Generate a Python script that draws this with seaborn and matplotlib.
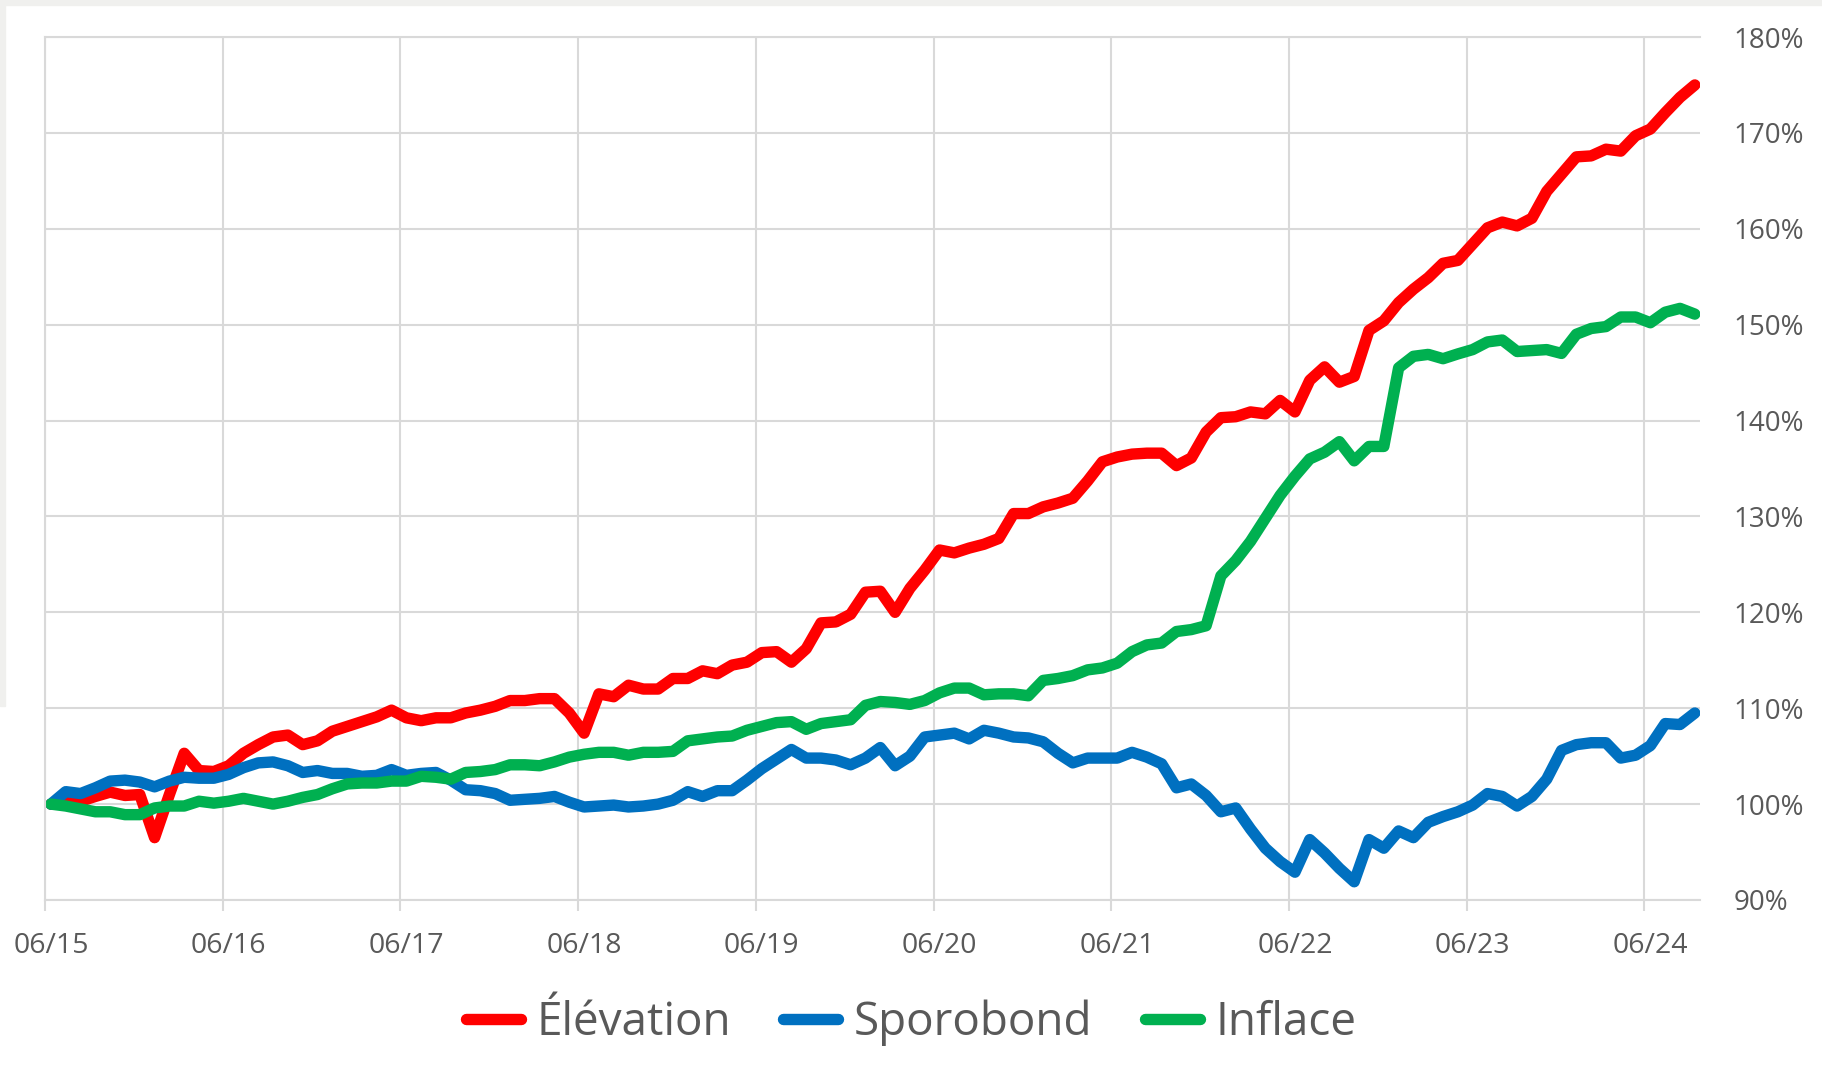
import matplotlib
matplotlib.use("Agg")
import matplotlib.pyplot as plt
import matplotlib.transforms as mtransforms
import numpy as np
import pandas as pd
import seaborn as sns
from matplotlib.patches import Rectangle

# Data (monthly, 06/2015 -> 09/2024, indexed to 100 %)
series_names = ["Élévation", "Sporobond", "Inflace"]
colors = ["#FF0000", "#0070C0", "#00B050"]

elevation = [
    100.0, 100.2, 100.3, 100.8, 101.25, 100.9, 101.0, 96.5, 101.0, 105.3,
    103.5, 103.4, 104.0, 105.3, 106.2, 107.0, 107.2, 106.2, 106.6, 107.6,
    108.1, 108.6, 109.1, 109.8, 109.0, 108.7, 109.0, 109.0, 109.5, 109.8,
    110.2, 110.8, 110.8, 111.0, 111.0, 109.5, 107.4, 111.5, 111.2, 112.4,
    112.0, 112.0, 113.1, 113.1, 113.9, 113.6, 114.5, 114.8, 115.8, 115.9,
    114.8, 116.2, 118.9, 119.0, 119.8, 122.1, 122.2, 120.0, 122.5, 124.4,
    126.5, 126.2, 126.7, 127.1, 127.7, 130.3, 130.3, 131.0, 131.4, 131.9,
    133.7, 135.7, 136.2, 136.5, 136.6, 136.6, 135.3, 136.1, 138.8, 140.3,
    140.4, 140.9, 140.7, 142.1, 140.9, 144.2, 145.6, 144.0, 144.6, 149.4,
    150.4, 152.3, 153.7, 154.9, 156.4, 156.7, 158.4, 160.1, 160.7, 160.3,
    161.1, 163.9, 165.7, 167.5, 167.6, 168.3, 168.1, 169.7, 170.4, 172.1,
    173.7, 175.0,
]

sporobond = [
    100.0, 101.3, 101.1, 101.7, 102.4, 102.5, 102.3, 101.8, 102.4, 102.8,
    102.7, 102.7, 103.1, 103.8, 104.3, 104.4, 104.0, 103.3, 103.5, 103.2,
    103.2, 102.9, 103.0, 103.6, 103.0, 103.2, 103.3, 102.5, 101.5, 101.4,
    101.1, 100.4, 100.5, 100.6, 100.8, 100.2, 99.7, 99.8, 99.9, 99.7,
    99.8, 100.0, 100.4, 101.3, 100.8, 101.4, 101.4, 102.5, 103.7, 104.7,
    105.7, 104.8, 104.8, 104.6, 104.1, 104.8, 105.9, 104.0, 105.0, 107.0,
    107.2, 107.4, 106.8, 107.7, 107.4, 107.0, 106.9, 106.5, 105.3, 104.3,
    104.8, 104.8, 104.8, 105.4, 104.9, 104.2, 101.7, 102.1, 100.9, 99.2,
    99.6, 97.4, 95.4, 94.0, 92.9, 96.3, 94.9, 93.3, 91.9, 96.3,
    95.4, 97.2, 96.5, 98.1, 98.7, 99.2, 99.9, 101.1, 100.8, 99.8,
    100.8, 102.6, 105.6, 106.2, 106.4, 106.4, 104.8, 105.1, 106.1, 108.4,
    108.3, 109.5,
]

inflace = [
    100.0, 99.8, 99.5, 99.2, 99.2, 98.9, 98.9, 99.6, 99.8, 99.8,
    100.3, 100.1, 100.3, 100.6, 100.3, 100.0, 100.3, 100.7, 101.0, 101.6,
    102.1, 102.2, 102.2, 102.4, 102.4, 102.9, 102.8, 102.6, 103.3, 103.4,
    103.6, 104.1, 104.1, 104.0, 104.4, 104.9, 105.2, 105.4, 105.4, 105.1,
    105.4, 105.4, 105.5, 106.6, 106.8, 107.0, 107.1, 107.7, 108.1, 108.5,
    108.6, 107.8, 108.4, 108.6, 108.8, 110.3, 110.7, 110.6, 110.4, 110.8,
    111.6, 112.1, 112.1, 111.4, 111.5, 111.5, 111.3, 112.9, 113.1, 113.4,
    114.0, 114.2, 114.7, 115.9, 116.6, 116.8, 118.0, 118.2, 118.6, 123.8,
    125.4, 127.4, 129.8, 132.2, 134.2, 136.0, 136.7, 137.8, 135.8, 137.3,
    137.3, 145.5, 146.7, 146.9, 146.45, 146.95, 147.4, 148.2, 148.4, 147.2,
    147.3, 147.4, 147.0, 149.0, 149.6, 149.8, 150.8, 150.8, 150.2, 151.3,
    151.7, 151.1,
]

tick_labels = ["06/15", "06/16", "06/17", "06/18", "06/19",
               "06/20", "06/21", "06/22", "06/23", "06/24"]
y_ticks = [90, 100, 110, 120, 130, 140, 150, 160, 170, 180]

# long-form table for seaborn
months = np.arange(len(elevation)) + 0.4
df = pd.DataFrame({
    "month": np.tile(months, 3),
    "value": elevation + sporobond + inflace,
    "series": np.repeat(series_names, len(months)),
})

sns.set_theme(style="white")
plt.rcParams["font.family"] = ["Open Sans", "DejaVu Sans"]

grid_col = "#d9d9d9"
text_col = "#595959"
lw = 8.2

fig = plt.figure(figsize=(18.22, 10.71), dpi=100)
fig.patches.append(Rectangle((0, 1 - 5 / 1071), 1, 5 / 1071, transform=fig.transFigure,
                             color="#f0f0ee", zorder=0))
fig.patches.append(Rectangle((0, 1 - 706 / 1071), 5 / 1822, 706 / 1071, transform=fig.transFigure,
                             color="#f0f0ee", zorder=0))

ax = fig.add_axes([45 / 1822, 1 - 900 / 1071, (1700 - 45) / 1822, (900 - 37) / 1071])
sns.lineplot(data=df, x="month", y="value", hue="series", hue_order=series_names,
             palette=colors, linewidth=lw, sort=False, ax=ax)
for line in ax.get_lines():
    line.set_solid_capstyle("round")
    line.set_solid_joinstyle("round")

ax.set_xlim(0, 111.75)
ax.set_ylim(90, 180)
ax.set_xlabel("")
ax.set_ylabel("")

ax.set_xticks(range(0, 109, 12))
ax.set_xticklabels(tick_labels)
ax.yaxis.tick_right()
ax.set_yticks(y_ticks)
ax.set_yticklabels([f"{v}%" for v in y_ticks])

ax.grid(True, color=grid_col, linewidth=1.5)
ax.set_axisbelow(True)
for side in ["left", "top", "bottom"]:
    ax.spines[side].set_color(grid_col)
    ax.spines[side].set_linewidth(1.5)
ax.spines["right"].set_visible(False)

ax.tick_params(axis="x", length=8, width=1.5, color=grid_col, pad=15,
               labelsize=20.5, labelcolor=text_col, bottom=True)
ax.tick_params(axis="y", length=0, pad=24, labelsize=20, labelcolor=text_col)

# Excel draws the date labels a little right of the tick
shift = mtransforms.ScaledTranslation(6 / 100, 0, fig.dpi_scale_trans)
for lbl in ax.get_xticklabels():
    lbl.set_transform(lbl.get_transform() + shift)

handles, labels = ax.get_legend_handles_labels()
ax.get_legend().remove()
leg = fig.legend(handles, labels, loc="center", bbox_to_anchor=(0.5, 0.045), ncol=3,
                 frameon=False, fontsize=33, handlelength=1.2, handletextpad=0.33,
                 columnspacing=1.15, labelcolor=text_col)
for line in leg.get_lines():
    line.set_linewidth(lw)
    line.set_solid_capstyle("round")

fig.savefig("out.png", dpi=100, facecolor="white")
